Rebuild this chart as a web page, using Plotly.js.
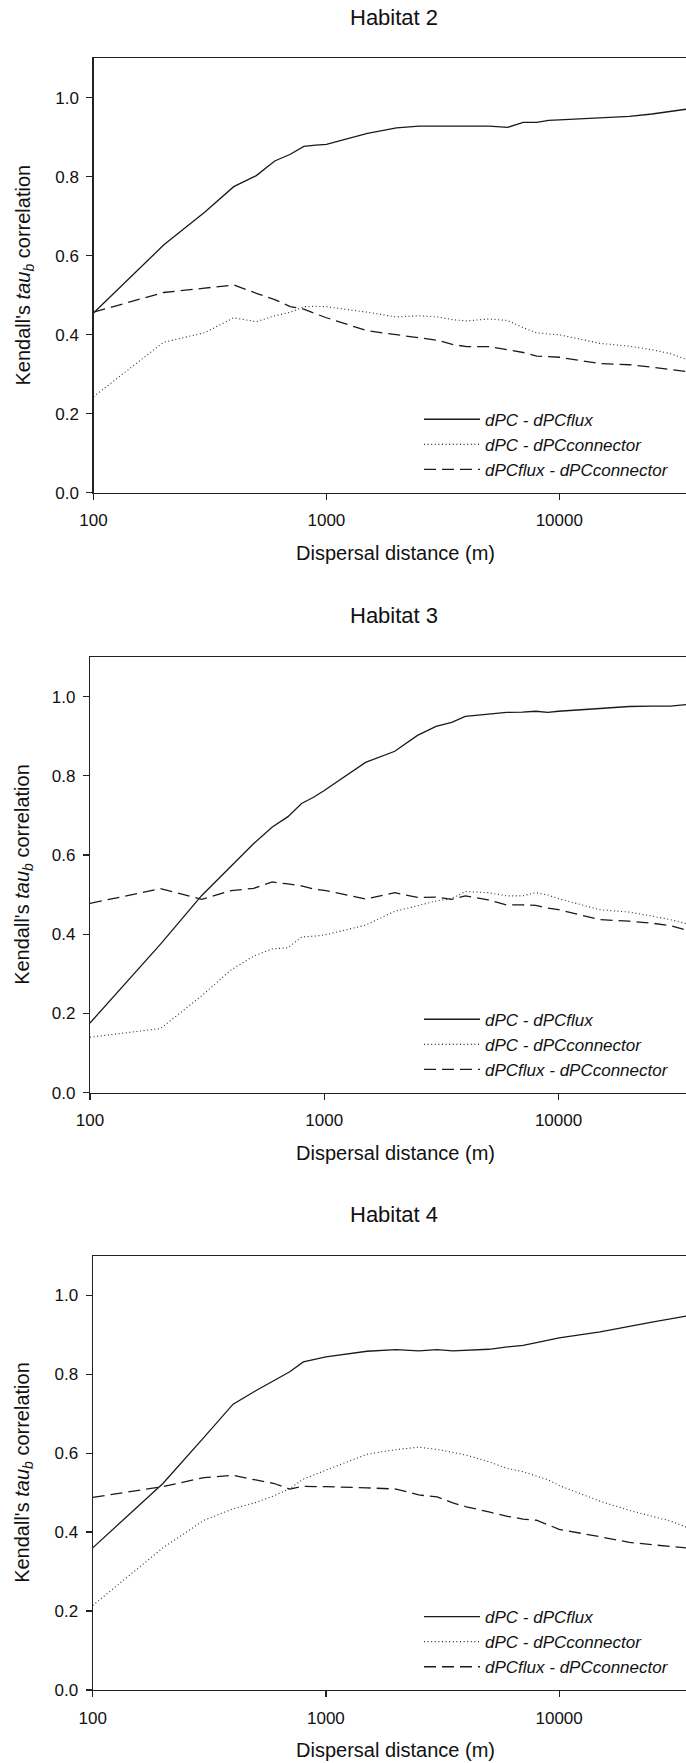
<!DOCTYPE html>
<html><head><meta charset="utf-8">
<script src="https://cdn.plot.ly/plotly-3.0.1.min.js"></script>
<style>html,body{margin:0;padding:0;background:#fff;}#chart{width:686px;height:1763px;}</style>
</head><body><div id="chart"></div>
<script>
// ---- data ----
const distance = [100,200,300,400,500,600,700,800,900,1000,1500,2000,2500,3000,3500,4000,5000,6000,7000,8000,9000,10000,15000,20000,25000,30000,35000];
const seriesNames = ['dPC - dPCflux','dPC - dPCconnector','dPCflux - dPCconnector'];
const panelTitles = ['Habitat 2','Habitat 3','Habitat 4'];
const xTickVals = [100,1000,10000];
const xTickText = ['100','1000','10000'];
const yTickVals = [0,0.2,0.4,0.6,0.8,1.0];
const yTickText = ['0.0','0.2','0.4','0.6','0.8','1.0'];

const h2Flux     = [0.455,0.627,0.710,0.775,0.803,0.840,0.857,0.877,0.880,0.882,0.910,0.924,0.928,0.928,0.929,0.928,0.928,0.925,0.938,0.938,0.943,0.944,0.950,0.953,0.959,0.965,0.971];
const h2Conn     = [0.243,0.381,0.405,0.443,0.433,0.448,0.457,0.471,0.472,0.471,0.457,0.445,0.448,0.445,0.438,0.435,0.440,0.436,0.418,0.405,0.402,0.400,0.378,0.371,0.362,0.352,0.338];
const h2FluxConn = [0.457,0.507,0.518,0.526,0.505,0.489,0.471,0.465,0.453,0.443,0.410,0.400,0.393,0.386,0.375,0.370,0.370,0.362,0.355,0.346,0.344,0.343,0.327,0.324,0.318,0.312,0.307];

const h3Flux     = [0.176,0.375,0.498,0.572,0.629,0.671,0.697,0.730,0.746,0.763,0.834,0.862,0.902,0.925,0.935,0.950,0.955,0.960,0.961,0.963,0.960,0.963,0.970,0.975,0.976,0.976,0.980];
const h3Conn     = [0.140,0.162,0.245,0.310,0.345,0.363,0.366,0.393,0.395,0.398,0.423,0.458,0.472,0.484,0.490,0.508,0.505,0.497,0.497,0.505,0.499,0.490,0.462,0.456,0.446,0.437,0.427];
const h3FluxConn = [0.478,0.515,0.488,0.510,0.516,0.532,0.527,0.522,0.514,0.511,0.489,0.505,0.493,0.494,0.488,0.497,0.487,0.474,0.474,0.473,0.466,0.462,0.437,0.433,0.428,0.422,0.411];

const h4Flux     = [0.360,0.523,0.640,0.724,0.758,0.785,0.806,0.831,0.838,0.844,0.858,0.862,0.859,0.862,0.859,0.860,0.863,0.869,0.873,0.880,0.886,0.892,0.907,0.922,0.932,0.940,0.947];
const h4Conn     = [0.214,0.360,0.430,0.459,0.475,0.492,0.510,0.534,0.546,0.557,0.597,0.609,0.615,0.609,0.602,0.595,0.578,0.561,0.553,0.542,0.532,0.518,0.478,0.455,0.440,0.428,0.413];
const h4FluxConn = [0.488,0.515,0.538,0.544,0.532,0.523,0.509,0.516,0.515,0.515,0.512,0.509,0.494,0.489,0.474,0.464,0.451,0.440,0.433,0.430,0.418,0.407,0.388,0.374,0.368,0.364,0.360];

// ---- layout geometry (px) ----
const W = 686, H = 1763;
const FONT = 'Liberation Sans, Arial, Helvetica, sans-serif';
const INK = '#1a1a1a';
const panels = [
  {left:93.5, top:58.3,  bottom:492.7, data:[h2Flux,h2Conn,h2FluxConn]},
  {left:90.0, top:657.0, bottom:1092.7, data:[h3Flux,h3Conn,h3FluxConn]},
  {left:92.7, top:1255.7, bottom:1690.0, data:[h4Flux,h4Conn,h4FluxConn]}
];
const styles = [
  {color:INK, width:1.3, dash:'solid'},
  {color:'#2a2a2a', width:1.1, dash:'1px,2.6px'},
  {color:INK, width:1.3, dash:'12px,6px'}
];

const traces = [];
const layout = {
  width:W, height:H,
  margin:{l:0,r:0,t:0,b:0},
  paper_bgcolor:'#fff', plot_bgcolor:'#fff',
  font:{family:FONT, color:'#111'},
  annotations:[]
};
const px = v => v / W;
const py = v => 1 - v / H;

panels.forEach((p, i) => {
  const s = i === 0 ? '' : String(i + 1);
  const legName = 'legend' + s;
  p.data.forEach((ys, k) => {
    traces.push({
      type:'scatter', mode:'lines',
      x:distance, y:ys, name:seriesNames[k],
      xaxis:'x' + s, yaxis:'y' + s, legend:legName,
      line:{color:styles[k].color, width:styles[k].width, dash:styles[k].dash},
      hoverinfo:'skip'
    });
  });
  layout['xaxis' + s] = {
    type:'log', range:[2, Math.log10(35000)],
    domain:[px(p.left), 1], anchor:'y' + s,
    showline:true, linecolor:'#222', linewidth:1.2, mirror:true,
    ticks:'outside', ticklen:6, tickwidth:1.2, tickcolor:'#222',
    tickvals:xTickVals, ticktext:xTickText, ticklabelstandoff:6,
    tickfont:{size:17, family:FONT, color:'#111'},
    showgrid:false, zeroline:false, fixedrange:true
  };
  layout['yaxis' + s] = {
    range:[0, 1.1],
    domain:[py(p.bottom), py(p.top)], anchor:'x' + s,
    showline:true, linecolor:'#222', linewidth:1.2, mirror:false,
    ticks:'outside', ticklen:6, tickwidth:1.2, tickcolor:'#222',
    tickvals:yTickVals, ticktext:yTickText, ticklabelstandoff:4,
    tickfont:{size:17, family:FONT, color:'#111'},
    showgrid:false, zeroline:false, fixedrange:true
  };
  layout[legName] = {
    x:px(419), xanchor:'left',
    y:py(p.bottom - 75 - 16), yanchor:'top',
    bgcolor:'rgba(0,0,0,0)', borderwidth:0,
    font:{size:17, family:FONT, color:'#111', style:'italic'},
    itemwidth:56, tracegroupgap:0, traceorder:'normal'
  };
  // panel title
  layout.annotations.push({
    text:panelTitles[i], xref:'paper', yref:'paper',
    x:px(394), y:py(p.top - 41), xanchor:'center', yanchor:'middle',
    showarrow:false, font:{size:22, family:FONT, color:'#111'}
  });
  // x axis title
  layout.annotations.push({
    text:'Dispersal distance (m)', xref:'paper', yref:'paper',
    x:px(395), y:py(p.bottom + 60), xanchor:'center', yanchor:'middle',
    showarrow:false, font:{size:20, family:FONT, color:'#111'}
  });
  // y axis title
  layout.annotations.push({
    text:"Kendall's <i>tau<sub>b</sub></i> correlation", xref:'paper', yref:'paper',
    x:px(24), y:py((p.top + p.bottom) / 2), xanchor:'center', yanchor:'middle',
    textangle:-90, showarrow:false, font:{size:20, family:FONT, color:'#111'}
  });
});

Plotly.newPlot('chart', traces, layout, {displayModeBar:false, staticPlot:true});
</script>
</body></html>
